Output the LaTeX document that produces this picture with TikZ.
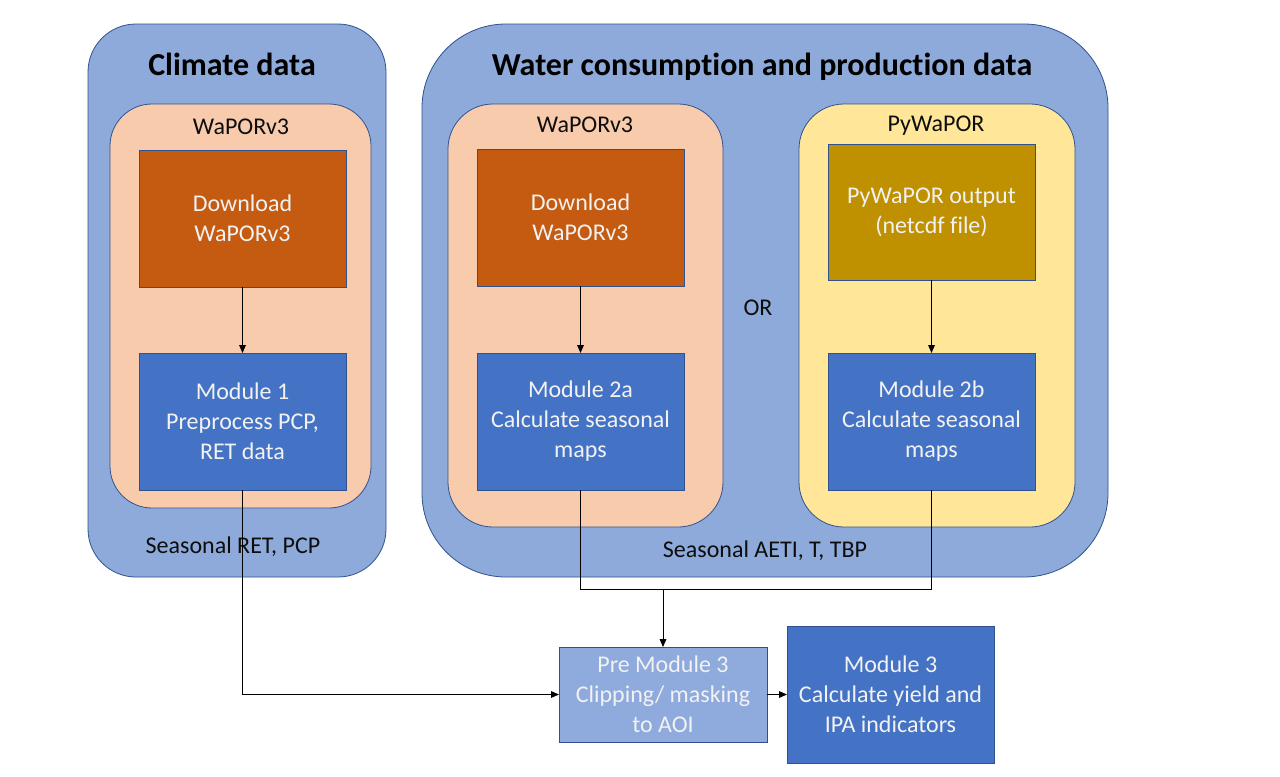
\documentclass[tikz,border=0pt]{standalone}
\usepackage{fontspec}
\setmainfont[Ligatures=NoCommon]{Carlito}
\usetikzlibrary{arrows.meta}
\definecolor{outerblue}{HTML}{8EAADB}
\definecolor{edgeblue}{HTML}{2F528F}
\definecolor{peach}{HTML}{F8CBAD}
\definecolor{paleyellow}{HTML}{FFE699}
\definecolor{rust}{HTML}{C55A11}
\definecolor{gold}{HTML}{BF9000}
\definecolor{modblue}{HTML}{4472C4}
\definecolor{lightmod}{HTML}{8FAADC}
\definecolor{boxtext}{HTML}{F2F2F2}
\tikzset{
  panel/.style={draw=edgeblue, line width=0.6pt, inner sep=0pt, outer sep=0pt},
  procbox/.style={draw=edgeblue, line width=0.6pt, inner sep=0pt, outer sep=0pt,
    minimum width=155.25pt, minimum height=102.75pt, text=boxtext, align=center,
    font=\fontsize{18}{22.5}\selectfont},
  lbl/.style={inner sep=0pt, text=black!95, font=\fontsize{18}{22.5}\selectfont},
  ttl/.style={inner sep=0pt, text=black, font=\fontsize{24}{29}\selectfont\bfseries},
  conn/.style={draw=black, line width=0.75pt},
  arr/.style={conn, -{Triangle[length=6pt,width=5pt]}}
}
\begin{document}
\begin{tikzpicture}[x=0.75pt,y=-0.75pt]
\useasboundingbox[fill=white] (0,0) rectangle (1280,776);
% panels
\node[panel, fill=outerblue, rounded corners=36pt, minimum width=223.5pt, minimum height=414.75pt] (clim) at (237,300.5) {};
\node[panel, fill=outerblue, rounded corners=63pt, minimum width=514.5pt, minimum height=414.75pt] (water) at (765,300.5) {};
\node[panel, fill=peach, rounded corners=31.5pt, minimum width=195.75pt, minimum height=303pt] (wap1) at (240.5,306) {};
\node[panel, fill=peach, rounded corners=33.75pt, minimum width=206.25pt, minimum height=317.25pt] (wap2) at (585.5,315.5) {};
\node[panel, fill=paleyellow, rounded corners=33.75pt, minimum width=207pt, minimum height=317.25pt] (pyw) at (937,315.5) {};
% titles and labels
\node[ttl] (tclim) at (232,64) {Climate data};
\node[ttl] (twater) at (762,67) {Water consumption and production data};
\node[lbl] (lwap1) at (241,127) {WaPORv3};
\node[lbl] (lwap2) at (585,125) {WaPORv3};
\node[lbl] (lpyw) at (936,126) {PyWaPOR};
\node[lbl] (lor) at (758,308) {OR};
\node[lbl] (lret) at (233,547) {Seasonal RET, PCP};
\node[lbl] (laeti) at (765,551) {Seasonal AETI, T, TBP};
% process boxes
\node[procbox, fill=rust] (dl1) at (242.5,218.5) {Download\\WaPORv3};
\node[procbox, fill=modblue] (m1) at (242.5,421.5) {Module 1\\Preprocess PCP,\\RET data};
\node[procbox, fill=rust] (dl2) at (580.5,217.5) {Download\\WaPORv3};
\node[procbox, fill=modblue] (m2a) at (580.5,421.5) {Module 2a\\Calculate seasonal\\maps};
\node[procbox, fill=gold, minimum height=102pt] (pyout) at (931.5,212) {PyWaPOR output\\(netcdf file)};
\node[procbox, fill=modblue] (m2b) at (931.5,421.5) {Module 2b\\Calculate seasonal\\maps};
\node[procbox, fill=lightmod, minimum width=156pt, minimum height=71.25pt] (pre) at (663,694.5) {Pre Module 3\\Clipping/ masking\\to AOI};
\node[procbox, fill=modblue] (m3) at (890.5,694.5) {Module 3\\Calculate yield and\\IPA indicators};
% connectors
\draw[arr] (dl1) -- (m1);
\draw[arr] (dl2) -- (m2a);
\draw[arr] (pyout) -- (m2b);
\draw[arr] (m1.south) |- (pre.west);
\coordinate (mj) at (663,589);
\draw[conn] (m2a.south) |- (mj) -| (m2b.south);
\draw[arr] (mj) -- (pre.north);
\draw[arr] (pre) -- (m3);
\end{tikzpicture}
\end{document}
